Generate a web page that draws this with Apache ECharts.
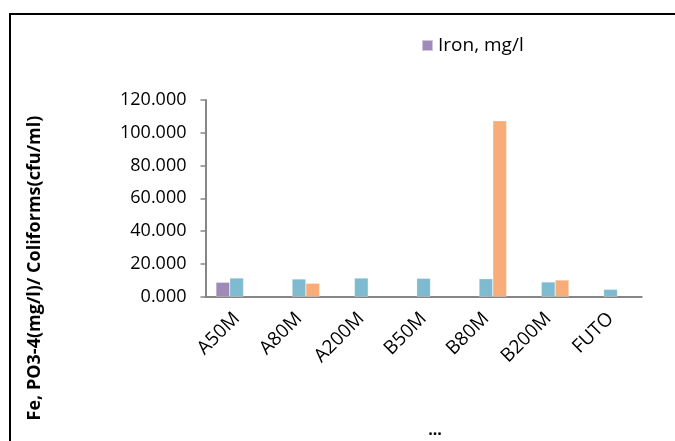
<!DOCTYPE html>
<html>
<head>
<meta charset="utf-8">
<script src="https://cdn.jsdelivr.net/npm/echarts@6/dist/echarts.min.js"></script>
<style>
html,body{margin:0;padding:0;background:#fff;}
#c{width:675px;height:441px;}
</style>
</head>
<body>
<div id="c"></div>
<script>
var categories = ['A50M','A80M','A200M','B50M','B80M','B200M','FUTO'];
var ironValues = [8.8, null, null, null, null, null, null];
var phosphateValues = [11.4, 10.8, 11.4, 11.2, 11.0, 9.0, 4.5];
var coliformValues = [null, 8.2, null, null, 107.3, 10.2, null];
var yTicks = {min: 0, max: 120, interval: 20};
var seriesNames = ['Iron, mg/l', 'Phosphate, mg/l', 'Coliforms, cfu/ml'];
var yAxisTitle = 'Fe, PO3-4(mg/l)/ Coliforms(cfu/ml)';
var xAxisTitle = '...';

var FONT = 'Open Sans';
var chart = echarts.init(document.getElementById('c'), null, {renderer: 'canvas'});
var barW = 13.8;
function mk(name, data, color) {
  return {
    name: name, type: 'bar', data: data, barWidth: barW, barGap: '0%',
    itemStyle: {color: color, borderColor: 'rgba(255,255,255,0.5)', borderWidth: 0.5},
    silent: true
  };
}
chart.setOption({
  animation: false,
  backgroundColor: '#fff',
  graphic: [{
    type: 'rect', shape: {x: 10, y: 14, width: 800, height: 600},
    style: {fill: 'none', stroke: '#000', lineWidth: 2}, silent: true, z: 100
  }, {
    type: 'text', x: 35, y: 268, rotation: Math.PI / 2,
    style: {text: yAxisTitle, font: 'bold 18px "Open Sans"', fill: '#000',
      textAlign: 'center', textVerticalAlign: 'middle'}, silent: true
  }, {
    type: 'text', x: 435, y: 430,
    style: {text: xAxisTitle, font: 'bold 16px "Open Sans"', fill: '#000',
      textAlign: 'center', textVerticalAlign: 'middle'}, silent: true
  }],
  legend: {
    data: [seriesNames[0]], left: 416, top: 31, itemWidth: 11, itemHeight: 11, itemGap: 5,
    icon: 'rect',
    textStyle: {fontFamily: FONT, fontSize: 19, color: '#000'}
  },
  grid: {left: 205.5, right: 33.3, top: 100, bottom: 144.3, containLabel: false},
  xAxis: {
    type: 'category', data: categories,
    axisLine: {lineStyle: {color: '#868686', width: 2}},
    axisTick: {show: false},
    axisLabel: {rotate: 45, fontFamily: FONT, fontSize: 19, color: '#000', margin: 19, interval: 0}
  },
  yAxis: {
    type: 'value', min: yTicks.min, max: yTicks.max, interval: yTicks.interval,
    axisLine: {show: true, lineStyle: {color: '#868686', width: 2}},
    axisTick: {show: true, length: 5, lineStyle: {color: '#868686', width: 1.5}},
    splitLine: {show: false},
    axisLabel: {fontFamily: FONT, fontSize: 18, color: '#000', margin: 19,
      formatter: function (v) { return v.toFixed(3); }}
  },
  series: [
    mk(seriesNames[0], ironValues, '#9F8AB9'),
    mk(seriesNames[1], phosphateValues, '#7EBBD0'),
    mk(seriesNames[2], coliformValues, '#F8AC78')
  ]
});
</script>
</body>
</html>
